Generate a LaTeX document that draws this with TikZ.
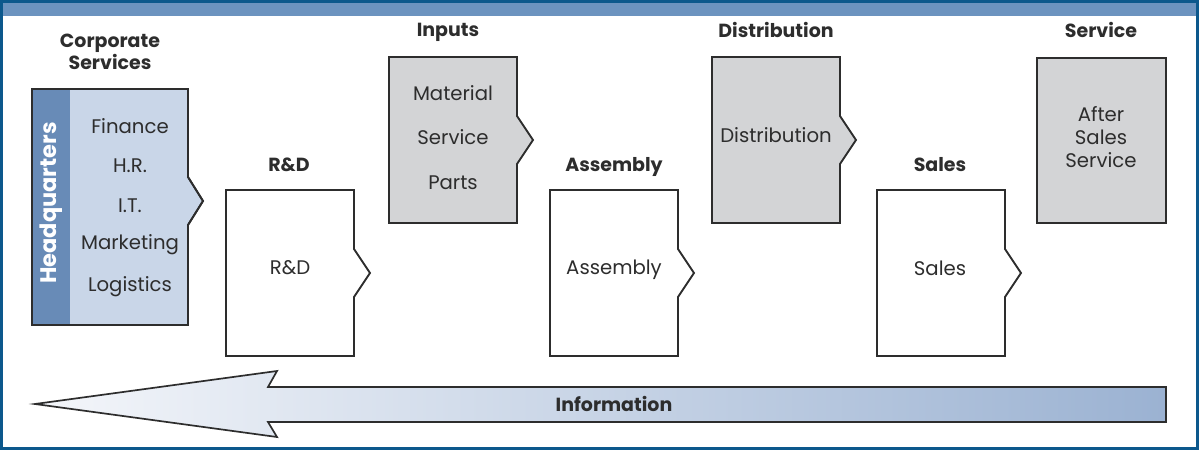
\documentclass[tikz,border=0pt]{standalone}
\usepackage{fontspec}
\setmainfont{Poppins}
\usetikzlibrary{positioning, shapes.geometric, calc}
\definecolor{framblue}{RGB}{12,88,140}
\definecolor{bandblue}{RGB}{108,147,191}
\definecolor{hqlight}{RGB}{201,214,232}
\definecolor{hqdark}{RGB}{104,139,183}
\definecolor{boxgrey}{RGB}{211,212,214}
\definecolor{inkgrey}{RGB}{45,45,45}
\definecolor{infolight}{RGB}{244,246,250}
\definecolor{infodark}{RGB}{155,178,210}
\tikzset{
    boxline/.style={draw=inkgrey, line width=1.3pt},
    coltitle/.style={font=\fontsize{13.5}{16}\selectfont\bfseries, text=inkgrey, align=center, inner sep=0pt},
    boxtext/.style={font=\fontsize{14}{16}\selectfont, text=inkgrey, align=center, inner sep=0pt},
    hqlabel/.style={font=\fontsize{16}{18}\selectfont\bfseries, text=white, rotate=90, inner sep=0pt}
}

\begin{document}
\begin{tikzpicture}[x=0.025cm, y=-0.025cm]
        \useasboundingbox (0,0) rectangle (1199,450);
        % Frame and top band
        \fill[white] (0,0) rectangle (1199,450);
        \fill[bandblue] (2,2) rectangle (1197,16);
        \draw[framblue, line width=2.2pt] (1.5,1.5) rectangle (1197.5,448.5);

        % Headquarters box
        \filldraw[boxline, fill=hqlight] (32,89) -- (188,89) -- (188,177) -- (203,201) -- (188,225) -- (188,325) -- (32,325) -- cycle;
        \fill[hqdark] (32.6,89.6) rectangle (70,324.4);
        \draw[boxline] (32,89) -- (188,89) -- (188,177) -- (203,201) -- (188,225) -- (188,325) -- (32,325) -- cycle;
        \node[hqlabel] (hq) at (51,203) {Headquarters};
        \foreach \t/\y [count=\i] in {Finance/126, H.R./166, I.T./206, Marketing/245, Logistics/287} {
            \node[boxtext] (hq\i) at (130,\y) {\t};
        }
        \node[coltitle] (corp) at (110,52) {Corporate\\Services};

        % Chevron boxes
        \foreach \nm/\l/\t/\fc in {rd/226/190/white, asm/550/190/white, sal/877/190/white, inp/389/57/boxgrey, dst/712/57/boxgrey} {
            \filldraw[boxline, fill=\fc] (\l,\t) -- ++(128,0) -- ++(0,59) -- ++(16,24) -- ++(-16,24) -- ++(0,59) -- ++(-128,0) -- cycle;
        }
        % Service box (no chevron)
        \filldraw[boxline, fill=boxgrey] (1037,58) rectangle (1166,223);

        % Column titles
        \node[coltitle] (rdtitle) at (289,165) {R\&D};
        \node[coltitle] (inptitle) at (448,32) {Inputs};
        \node[coltitle] (asmtitle) at (614,167) {Assembly};
        \node[coltitle] (dsttitle) at (776,30) {Distribution};
        \node[coltitle] (saltitle) at (940,165) {Sales};
        \node[coltitle] (svctitle) at (1101,30) {Service};

        % Box texts
        \node[boxtext] (rdtext) at (290,268) {R\&D};
        \node[boxtext] (asmtext) at (614,270) {Assembly};
        \node[boxtext] (saltext) at (940,268) {Sales};
        \foreach \t/\y [count=\i] in {Material/93, Service/137, Parts/183} {
            \node[boxtext] (inp\i) at (453,\y) {\t};
        }
        \node[boxtext] (dsttext) at (776,135) {Distribution};
        \node[boxtext, font=\fontsize{14}{16.5}\selectfont] (svctext) at (1101,137) {After\\Sales\\Service};

        % Information arrow
        \shadedraw[left color=infolight, right color=infodark, draw=inkgrey, line width=1.2pt]
            (35,404) -- (277,371) -- (268,387) -- (1166,387) -- (1166,422) -- (268,422) -- (277,437) -- cycle;
        \node[coltitle] (info) at (614,404) {Information};

    \end{tikzpicture}
\end{document}
